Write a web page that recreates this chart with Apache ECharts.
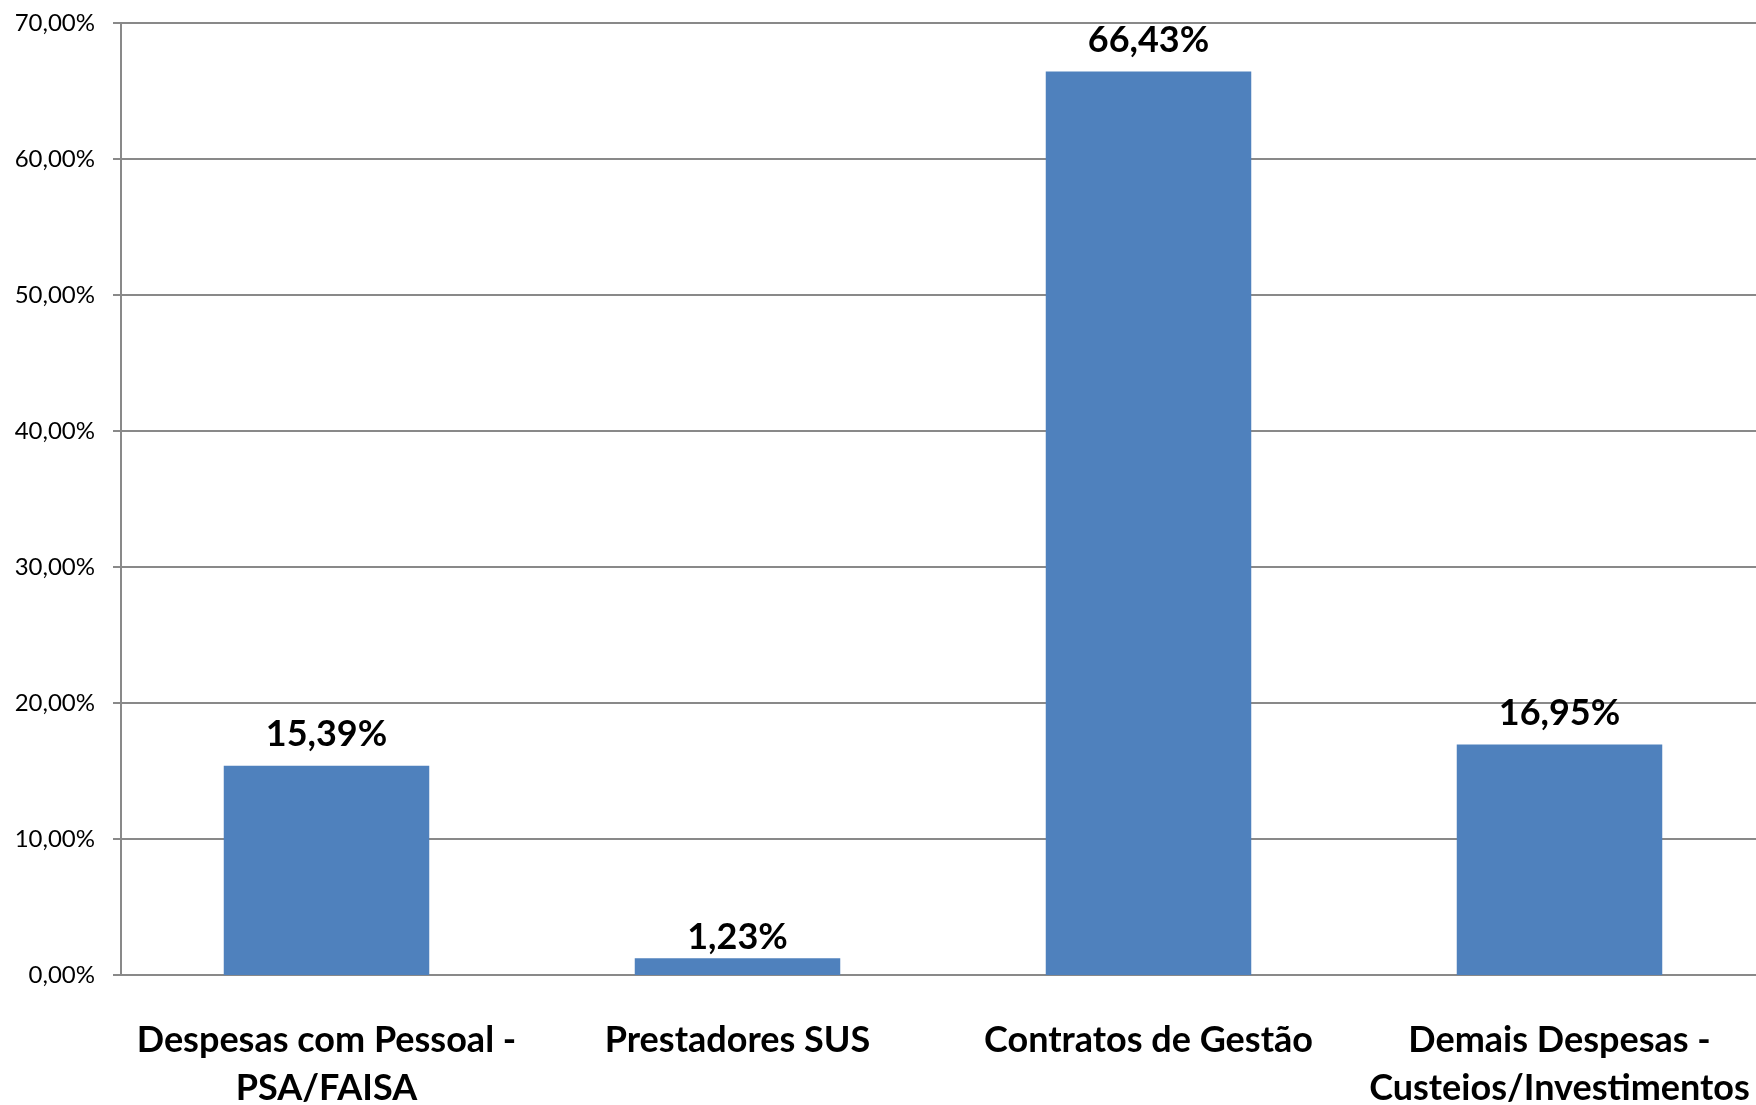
<!DOCTYPE html>
<html>
<head>
<meta charset="utf-8">
<script src="https://cdn.jsdelivr.net/npm/echarts@6/dist/echarts.min.js"></script>
<style>
  html, body { margin: 0; padding: 0; background: #fff; }
  #chart { width: 1756px; height: 1105px; }
</style>
</head>
<body>
<div id="chart"></div>
<script>
// categorias e valores (%)
var categorias = ['Despesas com Pessoal -\nPSA/FAISA', 'Prestadores SUS', 'Contratos de Gestão', 'Demais Despesas -\nCusteios/Investimentos']
var valores = [15.39, 1.23, 66.43, 16.95]
var yTicks = [0, 10, 20, 30, 40, 50, 60, 70]

function pct (v) {
  return v.toFixed(2).replace('.', ',') + '%'
}

var chart = echarts.init(document.getElementById('chart'))
var option = {
  animation: false,
  grid: { left: 121, right: -9, top: 23, bottom: 130, outerBoundsMode: 'none' },
  xAxis: {
    type: 'category',
    data: categorias,
    axisLine: { lineStyle: { color: '#898989', width: 2 } },
    axisTick: { length: 12, lineStyle: { color: '#898989', width: 2 } },
    axisLabel: {
      interval: 0,
      margin: 41,
      fontFamily: 'Lato',
      fontWeight: 'bold',
      fontSize: 36,
      lineHeight: 48,
      color: '#000'
    }
  },
  yAxis: {
    type: 'value',
    min: yTicks[0],
    max: yTicks[yTicks.length - 1],
    interval: 10,
    axisLine: { show: true, lineStyle: { color: '#898989', width: 2 } },
    axisTick: { show: true, length: 8, lineStyle: { color: '#898989', width: 2 } },
    splitLine: { lineStyle: { color: '#898989', width: 2 } },
    axisLabel: {
      margin: 26,
      fontFamily: 'Lato',
      fontSize: 24,
      color: '#000',
      formatter: pct
    }
  },
  series: [
    {
      type: 'bar',
      // o rótulo da barra pequena fica mais perto dela no original
      data: valores.map(function (v, i) {
        return i === 1 ? { value: v, label: { distance: 3 } } : v
      }),
      barWidth: '50%',
      itemStyle: { color: '#4F81BD' },
      label: {
        show: true,
        position: 'top',
        distance: 13,
        fontFamily: 'Lato',
        fontWeight: 'bold',
        fontSize: 36,
        color: '#000',
        formatter: function (p) { return pct(p.value) }
      }
    }
  ]
}
chart.setOption(option)
</script>
</body>
</html>
